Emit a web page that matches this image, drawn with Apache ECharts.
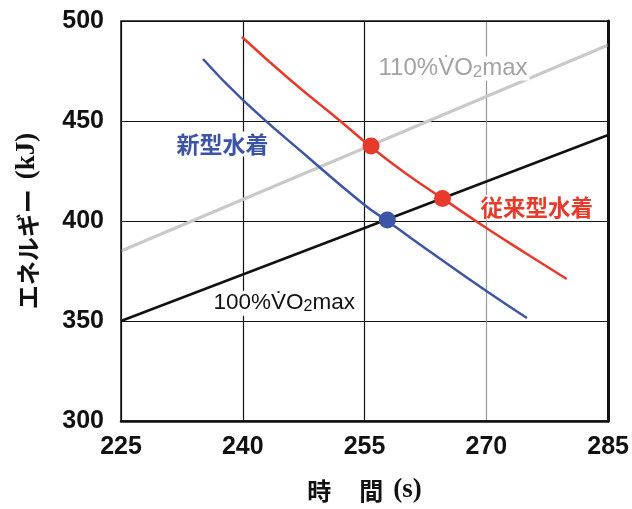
<!DOCTYPE html>
<html><head><meta charset="utf-8">
<script src="https://cdn.jsdelivr.net/npm/echarts@6/dist/echarts.min.js"></script>
<style>html,body{margin:0;padding:0;background:#fff}#c{width:632px;height:509px}</style>
</head><body><div id="c"></div>
<script>
// Data
const xTicks = [225, 240, 255, 270, 285];
const yTicks = [300, 350, 400, 450, 500];
const line110 = [[225, 385], [285, 488]];
const line100 = [[225, 350], [285, 443]];
const newSuit = [[235.1, 481], [240, 460.6], [248, 432], [255, 408], [257.8, 400], [264, 382], [270, 365], [275, 351.5]];
const oldSuit = [[239.9, 492], [246, 470], [252, 450], [255.8, 437], [260, 424], [264.6, 411.3], [270, 396.5], [275, 383.5], [279.9, 371]];
const newPoint = [[257.8, 400.5]];
const oldPoints = [[255.8, 437.5], [264.6, 411.3]];
const labels = [
  {name: '110', value: [265.9, 476.2]},
  {name: '新型水着', value: [237.5, 438.5]},
  {name: '従来型水着', value: [276.2, 406.9]},
  {name: '100', value: [245.1, 358.9]}
];

const chart = echarts.init(document.getElementById('c'));
const sans = 'Liberation Sans, Arial, sans-serif';
const jp = 'Noto Sans CJK JP, sans-serif';
function vo2(pct, color, fs) {
  return {
    formatter: '{a|' + pct + '%V\u0307O}{b|2}{a|max}',
    rich: {
      a: {fontFamily: sans, fontSize: fs, color: color},
      b: {fontFamily: sans, fontSize: Math.round(fs * 0.72), color: color, verticalAlign: 'bottom'}
    }
  };
}
const lbl = {
  '110': Object.assign({backgroundColor: '#fff', padding: [0, 2]}, vo2(110, '#a3a3a3', 24)),
  '100': Object.assign({backgroundColor: '#fff', padding: [1, 2]}, vo2(100, '#111', 22.5)),
  '新型水着': {formatter: '新型水着', fontFamily: jp, fontWeight: 'bold', fontSize: 23, color: '#3d55a6', backgroundColor: '#fff', padding: [1, 2]},
  '従来型水着': {formatter: '従来型水着', fontFamily: jp, fontWeight: 'bold', fontSize: 22.5, color: '#e83a2a', backgroundColor: '#fff', padding: [1, 2]}
};
const nameRich = {
  j: {fontFamily: jp, fontWeight: 'bold', fontSize: 24, color: '#111'},
  k: {fontFamily: jp, fontWeight: 'bold', fontSize: 24, color: '#111', padding: [0, 0, 0, 28]},
  s: {fontFamily: 'Liberation Serif, serif', fontWeight: 'bold', fontSize: 27, color: '#111', padding: [0, 0, 0, 10]}
};

chart.setOption({
  animation: false,
  backgroundColor: '#fff',
  grid: {left: 121, right: 22, top: 21, bottom: 82, show: true, borderColor: '#111', borderWidth: 1.5, z: 5},
  xAxis: {
    type: 'value', min: xTicks[0], max: xTicks[xTicks.length - 1], interval: 15,
    axisLine: {show: true, lineStyle: {color: '#111', width: 2.5}}, axisTick: {show: false},
    axisLabel: {fontFamily: sans, fontWeight: 'bold', fontSize: 25, color: '#111', margin: 14},
    splitLine: {show: true, lineStyle: {color: ['#111', '#111', '#111', '#999', '#111'], width: 1.2}},
    name: '{j|時}{k|間}{s|(s)}', nameLocation: 'middle', nameGap: 56,
    nameTextStyle: {rich: nameRich}
  },
  yAxis: [{
    type: 'value', min: yTicks[0], max: yTicks[yTicks.length - 1], interval: 50,
    axisLine: {show: false}, axisTick: {show: false},
    axisLabel: {fontFamily: sans, fontWeight: 'bold', fontSize: 25, color: '#111', margin: 17},
    splitLine: {show: true, lineStyle: {color: '#111', width: 1.2}},
    name: '{j|エネルギー}{s|(kJ)}', nameLocation: 'middle', nameGap: 80, nameRotate: 90,
    nameTextStyle: {rich: nameRich}
  }, {
    type: 'value', position: 'right', min: yTicks[0], max: yTicks[yTicks.length - 1], interval: 50,
    axisLine: {show: true, lineStyle: {color: '#111', width: 3}}, axisTick: {show: false},
    axisLabel: {show: false}, splitLine: {show: false}
  }],
  series: [
    {type: 'line', data: line110, showSymbol: false, lineStyle: {color: '#c9c9c9', width: 3}, z: 2},
    {type: 'line', data: line100, showSymbol: false, lineStyle: {color: '#111', width: 2.5}, z: 2},
    {type: 'line', data: newSuit, smooth: true, showSymbol: false, lineStyle: {color: '#3d55a6', width: 2.5}, z: 3},
    {type: 'line', data: oldSuit, smooth: true, showSymbol: false, lineStyle: {color: '#e83a2a', width: 2.5}, z: 3},
    {type: 'scatter', data: newPoint, symbolSize: 17, itemStyle: {color: '#3d55a6', opacity: 1}, z: 4},
    {type: 'scatter', data: oldPoints, symbolSize: 17, itemStyle: {color: '#e83a2a', opacity: 1}, z: 4},
    {type: 'scatter', symbolSize: 0, z: 6, itemStyle: {opacity: 1},
      data: labels.map(l => ({name: l.name, value: l.value, label: Object.assign({show: true, position: 'inside'}, lbl[l.name])}))}
  ]
});
</script></body></html>
